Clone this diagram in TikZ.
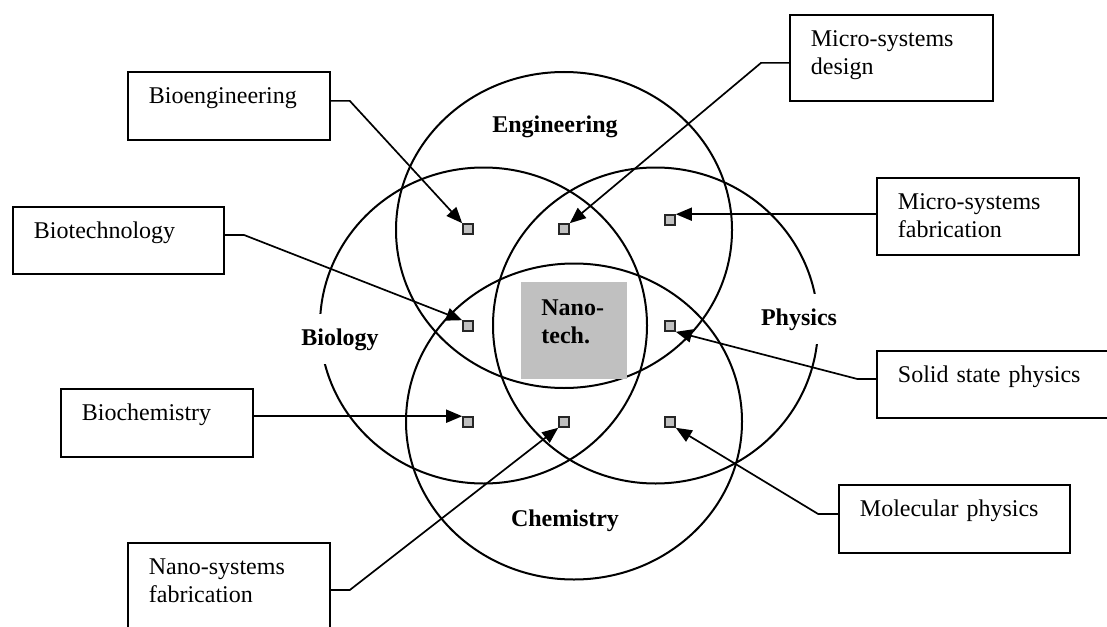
\documentclass[tikz,border=0pt]{standalone}
\usepackage{fontspec}
\setmainfont{Liberation Serif}
\usetikzlibrary{shapes.geometric, arrows.meta}
\definecolor{spotgray}{RGB}{192,192,192}

\begin{document}
\begin{tikzpicture}[
        x=0.5pt, y=-0.5pt,
        font=\fontsize{12}{14}\selectfont,
        field/.style={ellipse, draw, line width=1pt, inner sep=0pt, minimum height=158pt},
        fieldname/.style={anchor=base, font=\fontsize{12}{14}\selectfont\bfseries, fill=white, inner xsep=2pt, inner ysep=7pt},
        topic/.style={rectangle, draw, line width=0.9pt, anchor=north west, inner xsep=10.5pt, inner ysep=0pt, align=left, text height=16pt},
        spot/.style={rectangle, draw=black!85, fill=spotgray, line width=0.8pt, minimum size=5pt, inner sep=0pt},
        link/.style={line width=0.85pt, -{Triangle[length=8pt, width=6.5pt]}},
    ]
    \useasboundingbox (0,0) rectangle (1107,626);
    \clip (0,0) rectangle (1107,626);

    \node[field, minimum width=168pt] (ENG) at (564,230) {};
    \node[field, minimum width=163.5pt] (BIO) at (483.5,325.5) {};
    \node[field, minimum width=162.5pt] (PHY) at (655.5,325.5) {};
    \node[field, minimum width=168pt] (CHEM) at (574,421.5) {};

    \node[fieldname] (ENGL) at (555,133) {Engineering};
    \node[fieldname] (BIOL) at (340,345) {Biology};
    \node[fieldname] (PHYL) at (799,325) {Physics};
    \node[fieldname] (CHEML) at (565,526) {Chemistry};

    \node[rectangle, fill=spotgray, anchor=north west, inner xsep=10pt, inner ysep=0pt, text width=33pt, align=left, text height=16.5pt, text depth=32pt, font=\fontsize{12}{14}\selectfont\bfseries] (NANO) at (521,282) {Nano-\\tech.};

    \node[topic, text width=80pt, text depth=18pt] (BIOENG) at (127,71) {Bioengineering};
    \node[topic, text width=84.5pt, text depth=17.5pt] (BIOTECH) at (12,206) {Biotechnology};
    \node[topic, text width=75pt, text depth=18pt] (BIOCHEM) at (60,388) {Biochemistry};
    \node[topic, text width=80pt, text depth=60pt] (NANOFAB) at (127,542) {Nano-systems\\fabrication};
    \node[topic, text width=80.5pt, text depth=27pt] (MICDES) at (789,14) {Micro-systems\\design};
    \node[topic, text width=80pt, text depth=22.5pt] (MICFAB) at (876,177) {Micro-systems\\fabrication};
    \node[topic, text width=104pt, text depth=17.5pt] (SOLID) at (876,350) {Solid state physics};
    \node[topic, text width=94.5pt, text depth=18pt] (MOLEC) at (838,484) {Molecular physics};

    \node[spot] (SBE) at (468,229) {};
    \node[spot] (SMD) at (564,229) {};
    \node[spot] (SMF) at (670,220) {};
    \node[spot] (SBT) at (468,326) {};
    \node[spot] (SSS) at (670,326) {};
    \node[spot] (SBC) at (468,422) {};
    \node[spot] (SNF) at (564,422) {};
    \node[spot] (SMP) at (670,422) {};

    \draw[link] ([yshift=2.5pt]BIOENG.east) -- ++(19,0) -- (SBE.north west);
    \draw[link] ([yshift=2.75pt]BIOTECH.east) -- ++(19,0) -- (SBT.north west);
    \draw[link] (BIOCHEM.east |- SBC.north) -- (SBC.north west);
    \draw[link] ([yshift=-24pt]NANOFAB.north east) -- ++(19,0) -- (SNF.south west);
    \draw[link] ([yshift=-2.5pt]MICDES.west) -- ++(-28,0) -- (SMD.north east);
    \draw[link] (MICFAB.west |- SMF.north) -- (SMF.north east);
    \draw[link] ([yshift=2.75pt]SOLID.west) -- ++(-19,0) -- (SSS.south east);
    \draw[link] ([yshift=2.5pt]MOLEC.west) -- ++(-20,0) -- (SMP.south east);
\end{tikzpicture}
\end{document}
